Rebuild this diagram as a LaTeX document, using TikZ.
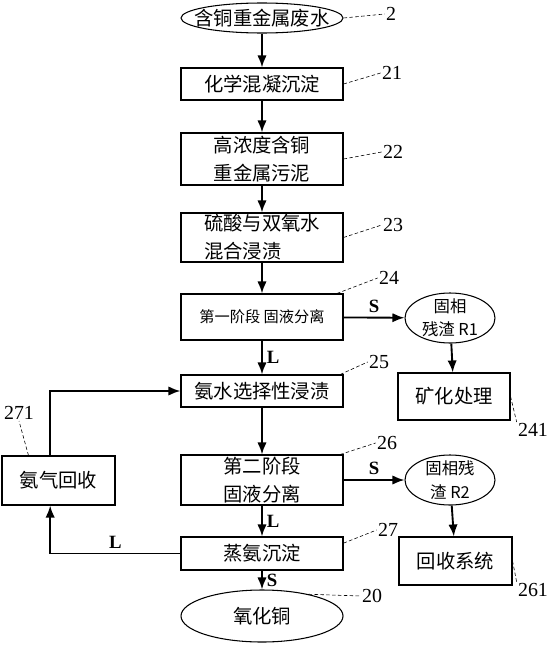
\documentclass[tikz,border=0pt]{standalone}
\usepackage{fontspec}
\setmainfont{Liberation Serif}
\newfontfamily\cjk{Noto Sans CJK SC}
\usetikzlibrary{positioning, shapes.geometric, arrows.meta}

\begin{document}
\begin{tikzpicture}[x=0.03cm, y=-0.03cm,
    box/.style={draw, line width=0.9pt, minimum width=4.86cm, align=center, inner sep=0pt, font=\cjk\fontsize{16.5}{24}\selectfont},
    oval/.style={ellipse, draw, line width=0.9pt, inner sep=0pt},
    otext/.style={font=\cjk\fontsize{16.5}{20}\selectfont, align=center},
    arr/.style={line width=1.6pt, -{Latex[length=3.6mm, width=2.8mm]}},
    lead/.style={densely dashed, line width=0.5pt},
    num/.style={font=\fontsize{17}{17}\selectfont, inner sep=1pt},
    tag/.style={font=\bfseries\fontsize{16}{16}\selectfont}]
    \useasboundingbox (0,0) rectangle (553,645);

    % Main column
    \node[oval, minimum width=4.86cm, minimum height=0.9cm, label={[otext]center:含铜重金属废水}] (waste) at (262,18) {};
    \node[box, minimum height=0.96cm] (coag) at (262,84) {化学混凝沉淀};
    \node[box, minimum height=1.56cm] (sludge) at (262,159) {高浓度含铜\\重金属污泥};
    \node[box, minimum height=1.47cm, align=left] (leach) at (262,237.5) {硫酸与双氧水\\混合浸渍};
    \node[box, minimum height=1.38cm, font=\cjk\fontsize{13}{16}\selectfont] (sep1) at (262,317) {第一阶段 固液分离};
    \node[box, minimum height=0.96cm] (ammo) at (262,391) {氨水选择性浸渍};
    \node[box, minimum height=1.5cm] (sep2) at (262,480) {第二阶段\\固液分离};
    \node[box, minimum height=0.99cm] (dist) at (262,553.5) {蒸氨沉淀};
    \node[oval, minimum width=4.86cm, minimum height=1.56cm, label={[otext]center:氧化铜}] (cuo) at (262,616) {};

    % Residue branches
    \node[oval, minimum width=2.7cm, minimum height=1.5cm, label={[otext, font=\cjk\fontsize{14}{20}\selectfont]center:固相\\残渣 R1}] (res1) at (450,318) {};
    \node[box, minimum width=3.36cm, minimum height=1.41cm] (mineral) at (454,396.5) {矿化处理};
    \node[oval, minimum width=2.7cm, minimum height=1.5cm, label={[otext, font=\cjk\fontsize{14}{20}\selectfont]center:固相残\\渣 R2}] (res2) at (450,480) {};
    \node[box, minimum width=3.39cm, minimum height=1.44cm] (recsys) at (455.5,561) {回收系统};

    % Ammonia loop
    \node[box, minimum width=3.39cm, minimum height=1.47cm] (nh3) at (58.5,480.5) {氨气回收};

    % Flow arrows
    \draw[arr] (waste) -- (coag);
    \draw[arr] (coag) -- (sludge);
    \draw[arr] (sludge) -- (leach);
    \draw[arr] (leach) -- (sep1);
    \draw[arr] (sep1) -- node[tag, above] (s1) {S} (res1);
    \draw[arr] (sep1) -- node[tag, right] (l1) {L} (ammo);
    \draw[arr] (res1) -- (mineral);
    \draw[arr] (ammo) -- (sep2);
    \draw[arr] (sep2) -- node[tag, above] (s2) {S} (res2);
    \draw[arr] (sep2) -- node[tag, right] (l2) {L} (dist);
    \draw[arr] (res2) -- (recsys);
    \draw[arr] (dist) -- node[tag, right] (s3) {S} (cuo);
    \draw[arr] (dist.west) -| node[tag, above, pos=0.25] (l3) {L} ([xshift=-0.25cm]nh3.south);
    \draw[arr] ([xshift=-0.25cm]nh3.north) |- (ammo.west);

    % Reference numbers
    \node[num] (n2) at (391,14) {2};
    \node[num] (n21) at (392,73) {21};
    \node[num] (n22) at (393,152) {22};
    \node[num] (n23) at (393,225) {23};
    \node[num] (n24) at (389,278) {24};
    \node[num] (n25) at (379,362) {25};
    \node[num] (n241) at (533,430) {241};
    \node[num] (n26) at (387,443) {26};
    \node[num] (n27) at (388,530) {27};
    \node[num] (n20) at (372,596) {20};
    \node[num] (n261) at (533,590) {261};
    \node[num] (n271) at (19,413) {271};
    \draw[lead] (waste.east) -- (n2.west);
    \draw[lead] (coag.east) -- (n21.west);
    \draw[lead] (sludge.east) -- (n22.west);
    \draw[lead] (leach.east) -- (n23.west);
    \draw[lead] ([xshift=-0.2cm]sep1.north east) -- (n24.west);
    \draw[lead] ([xshift=-0.1cm]ammo.north east) -- (n25.west);
    \draw[lead] (mineral.east) -- (n241.north west);
    \draw[lead] ([xshift=-0.1cm]sep2.north east) -- (n26.west);
    \draw[lead] ([yshift=-0.2cm]dist.north east) -- (n27.west);
    \draw[lead] (cuo.25) -- (n20.west);
    \draw[lead] (recsys.east) -- (n261.north west);
    \draw[lead] ([xshift=-0.9cm]nh3.north) -- (n271.south);
\end{tikzpicture}
\end{document}
